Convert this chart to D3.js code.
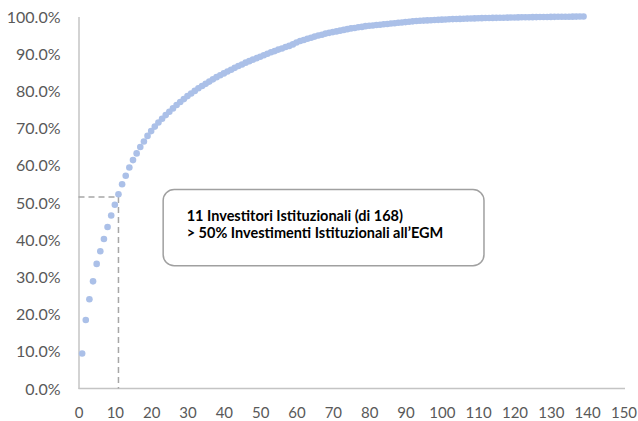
<!DOCTYPE html>
<html>
<head>
<meta charset="utf-8">
<script src="https://cdn.jsdelivr.net/npm/d3@7"></script>
<style>
  html, body { margin: 0; padding: 0; background: #fff; }
  svg { display: block; }
  text { font-family: Lato, "Open Sans", sans-serif; }
</style>
</head>
<body>
<svg id="chart" width="638" height="421"></svg>
<script>
// Cumulative share of institutional investments, investors ranked by size
const investorRank = d3.range(1, 140);
const cumulativeShare = [
  9.4, 18.4, 24.0, 28.8, 33.5, 36.9, 40.2, 43.4, 46.5, 49.4,
  52.2, 54.9, 57.2, 59.4, 61.4, 63.2, 64.9, 66.4, 67.9, 69.2,
  70.4, 71.5, 72.5, 73.5, 74.4, 75.3, 76.2, 77.0, 77.8, 78.6,
  79.3, 80.0, 80.7, 81.3, 81.9, 82.5, 83.1, 83.7, 84.2, 84.7,
  85.2, 85.7, 86.2, 86.7, 87.1, 87.6, 88.0, 88.4, 88.8, 89.2,
  89.6, 90.0, 90.4, 90.7, 91.1, 91.4, 91.8, 92.1, 92.5, 93.0,
  93.4, 93.7, 94.0, 94.3, 94.6, 94.9, 95.1, 95.4, 95.6, 95.8,
  96.0, 96.2, 96.4, 96.6, 96.8, 96.9, 97.1, 97.2, 97.4, 97.5,
  97.6, 97.7, 97.8, 97.9, 98.0, 98.1, 98.2, 98.3, 98.4, 98.5,
  98.6, 98.7, 98.8, 98.85, 98.9, 98.95, 99.0, 99.05, 99.1, 99.15,
  99.2, 99.25, 99.3, 99.33, 99.36, 99.4, 99.43, 99.46, 99.49, 99.52,
  99.55, 99.58, 99.6, 99.62, 99.64, 99.66, 99.68, 99.7, 99.72, 99.74,
  99.76, 99.78, 99.8, 99.81, 99.82, 99.84, 99.85, 99.86, 99.88, 99.89,
  99.9, 99.92, 99.93, 99.94, 99.95, 99.96, 99.97, 99.98, 100.0
];
const xTicks = d3.range(0, 151, 10);
const yTicks = d3.range(0, 1.0001, 0.1);

// Highlighted threshold: the first 11 investors cover just over half
const thresholdRank = 11;
const thresholdShare = 0.515;
const noteLines = [
  "11 Investitori Istituzionali (di 168)",
  "> 50% Investimenti Istituzionali all\u2019EGM"
];

const svg = d3.select("#chart");
const margin = { left: 78.5, right: 14.5, top: 16.5, bottom: 32.5 };
const W = 638, H = 421;

const x = d3.scaleLinear().domain([0, 150]).range([margin.left, W - margin.right]);
const y = d3.scaleLinear().domain([0, 1]).range([H - margin.bottom, margin.top]);

const fmtPct = d3.format(".1%");

// Axes
const xAxis = svg.append("g")
  .attr("transform", `translate(0,${y(0)})`)
  .call(d3.axisBottom(x).tickValues(xTicks).tickSize(0).tickPadding(19));
const yAxis = svg.append("g")
  .attr("transform", `translate(${x(0)},0)`)
  .call(d3.axisLeft(y).tickValues(yTicks).tickFormat(fmtPct).tickSize(0).tickPadding(18));

[xAxis, yAxis].forEach(g => {
  g.select(".domain").attr("stroke", "#c4c4c4").attr("stroke-width", 1.5);
  g.selectAll("text")
    .attr("fill", "#595959")
    .style("font-family", "Lato, 'Open Sans', sans-serif");
});
xAxis.select(".domain").attr("d", `M${x(0)},0H${x(150) + 1.5}`);
xAxis.selectAll("text").style("font-size", "15px");
yAxis.selectAll("text").style("font-size", "16px").attr("dy", "0.35em");

// Dashed guides to the threshold point
const guides = svg.append("g")
  .attr("fill", "none")
  .attr("stroke", "#a6a6a6")
  .attr("stroke-width", 1.5)
  .attr("stroke-dasharray", "6,4");
guides.append("line")
  .attr("x1", x(thresholdRank)).attr("x2", x(thresholdRank))
  .attr("y1", y(thresholdShare)).attr("y2", y(0));
guides.append("line")
  .attr("x1", x(0)).attr("x2", x(thresholdRank))
  .attr("y1", y(thresholdShare)).attr("y2", y(thresholdShare));

// Scatter points
svg.append("g")
  .selectAll("circle")
  .data(investorRank.map((r, i) => ({ r, v: cumulativeShare[i] / 100 })))
  .join("circle")
  .attr("cx", d => x(d.r))
  .attr("cy", d => y(d.v))
  .attr("r", 3.3)
  .attr("fill", "#abc0e8");

// Annotation box
const boxX0 = x(23.3), boxX1 = x(111.6);
const boxY0 = y(0.535), boxY1 = y(0.33);
svg.append("rect")
  .attr("x", boxX0).attr("y", boxY0)
  .attr("width", boxX1 - boxX0).attr("height", boxY1 - boxY0)
  .attr("rx", 11).attr("ry", 11)
  .attr("fill", "#fff")
  .attr("stroke", "#a0a0a0")
  .attr("stroke-width", 1.5);

svg.append("g")
  .selectAll("text")
  .data(noteLines)
  .join("text")
  .attr("x", boxX0 + 23.5)
  .attr("y", (d, i) => boxY0 + 31.5 + i * 17.5)
  .attr("fill", "#000")
  .style("font-size", "14.5px")
  .style("font-weight", "bold")
  .text(d => d);
</script>
</body>
</html>
